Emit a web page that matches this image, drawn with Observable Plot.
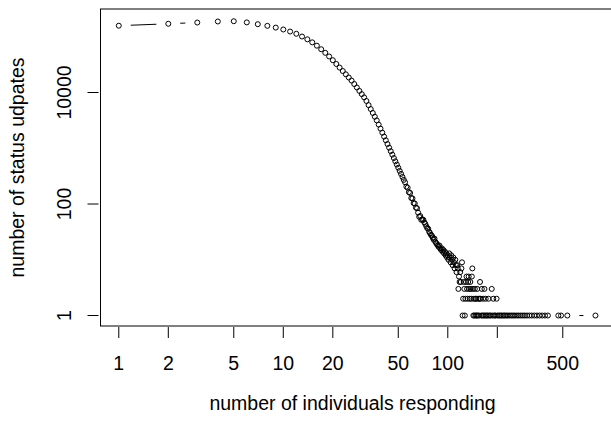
<!DOCTYPE html>
<html>
<head>
<meta charset="utf-8">
<script src="https://cdn.jsdelivr.net/npm/d3@7"></script>
<script src="https://cdn.jsdelivr.net/npm/@observablehq/plot@0.6"></script>
<style>
  html, body { margin: 0; padding: 0; background: #fff; overflow: hidden; }
</style>
</head>
<body>
<div id="chart"></div>
<script>
// number of individuals responding (x)
const responders = [
  1,2,3,4,5,6,7,8,9,10,11,12,13,14,15,16,17,18,19,20,
  21,22,23,24,25,26,27,28,29,30,31,32,33,34,35,36,37,38,39,40,
  41,42,43,44,45,46,47,48,49,50,51,52,53,54,55,56,57,58,59,60,
  61,62,63,64,65,66,67,68,69,70,71,72,73,74,75,76,77,78,79,80,
  81,82,83,84,85,86,87,88,89,90,91,92,93,94,95,96,97,98,99,100,
  101,102,103,104,105,106,107,108,109,110,111,112,113,114,115,
  116,117,118,119,120,121,122,123,124,125,126,127,128,129,130,
  131,132,133,134,135,136,137,138,139,140,141,142,143,144,145,
  146,147,148,149,150,151,152,153,155,156,157,158,160,161,163,
  164,166,167,169,170,172,175,177,179,182,185,187,189,192,195,
  198,201,205,209,213,218,222,227,232,238,244,250,256,263,270,
  278,286,294,303,313,324,336,348,361,375,390,406,470,488,533,790
];
// number of status updates (y)
const updates = [
  158000,171000,180000,188000,190000,181000,168000,157000,146000,135000,
  124000,113000,101000,90000,79400,69200,59700,51500,44300,38000,
  32500,28000,24300,21200,18600,16400,14200,12300,10700,9350,
  8190,7050,5940,5050,4300,3680,3160,2660,2250,1900,
  1620,1390,1190,1025,887,768,668,583,510,447,
  393,347,306,271,245,205,196,163,158,128,
  126,104,102,86,84,70,59,61,52,53,
  52,47,44,40,37,36,32,30,28,27,
  25,23,24,21,20,19,18,17,18,16,
  15,16,14,15,13,14,12,13,11,12,
  10,13,11,9,12,10,8,11,9,7,10,8,6,8,7,
  3,5,4,6,4,7,9,1,2,4,3,1,2,4,5,
  3,2,4,5,3,2,4,3,2,5,7,3,1,2,1,
  3,2,1,2,1,3,1,2,1,2,4,2,1,3,1,
  2,1,3,1,2,1,1,2,1,1,3,1,2,1,1,
  2,1,1,1,1,1,1,1,1,1,1,1,1,1,1,
  1,1,1,1,1,1,1,1,1,1,1,1,1,1,1,1
];
const xTickValues = [1, 2, 5, 10, 20, 50, 100, 200, 500];
const xTickLabels = ["1", "2", "5", "10", "20", "50", "100", "", "500"];
const yTickValues = [1, 100, 10000];
const yTickLabels = ["1", "100", "10000"];
const xTitle = "number of individuals responding";
const yTitle = "number of status udpates";

const data = responders.map((n, i) => ({n, c: updates[i]}));
const FS = 19.5;
const FONT = "'Liberation Sans', Arial, Helvetica, sans-serif";

const chart = Plot.plot({
  width: 611,
  height: 424,
  marginLeft: 100,
  marginRight: -3,
  marginTop: 8.5,
  marginBottom: 98.5,
  style: {fontFamily: FONT, fontSize: FS + "px", background: "white", color: "black"},
  x: {type: "log", domain: [Math.pow(10, -0.1112), Math.pow(10, 3.0134)], range: [100, 614]},
  y: {type: "log", domain: [Math.pow(10, -0.188), Math.pow(10, 5.498)], range: [325.5, 8.5]},
  marks: [
    Plot.line(data, {x: "n", y: "c", stroke: "black", strokeWidth: 1}),
    Plot.dot(data, {x: "n", y: "c", r: 12, fill: "white", stroke: "none"}),
    Plot.dot(data, {x: "n", y: "c", r: 2.5, fill: "none", stroke: "black", strokeWidth: 1}),
    Plot.frame({stroke: "black", strokeWidth: 1}),
    Plot.axisX({ticks: xTickValues, tickSize: 11, dy: 1.5, tickFormat: () => "", label: null, stroke: "black"}),
    Plot.axisY({ticks: yTickValues, tickSize: 11, dx: -1.5, tickFormat: () => "", label: null, stroke: "black"}),
    Plot.text(xTickValues, {x: d => d, text: (d, i) => xTickLabels[i], frameAnchor: "bottom", dy: 38.2, lineAnchor: "middle", fontSize: FS, fill: "black"}),
    Plot.text(yTickValues, {y: d => d, text: (d, i) => yTickLabels[i], frameAnchor: "left", dx: -35.5, rotate: -90, textAnchor: "middle", lineAnchor: "middle", fontSize: FS, fill: "black"}),
    Plot.text([xTitle], {text: d => d, frameAnchor: "bottom", dx: -5, dy: 78, lineAnchor: "middle", fontSize: FS, fill: "black"}),
    Plot.text([yTitle], {text: d => d, frameAnchor: "left", dx: -82.7, rotate: -90, textAnchor: "middle", lineAnchor: "middle", fontSize: FS, fill: "black"})
  ]
});
document.getElementById("chart").appendChild(chart);
</script>
</body>
</html>
